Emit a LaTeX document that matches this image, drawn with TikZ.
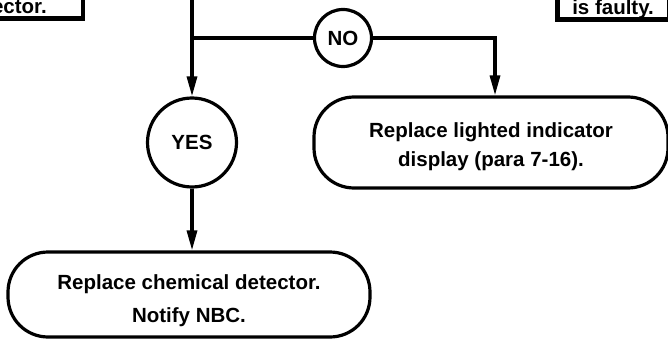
\documentclass[tikz,border=0pt]{standalone}
\usepackage{fontspec}
\setmainfont{Liberation Sans}
\usetikzlibrary{arrows.meta}
\tikzset{
  action/.style={rectangle, rounded corners=40pt, draw=black, line width=3.2pt, align=center, inner sep=0pt},
  answer/.style={circle, draw=black, line width=3.2pt, inner sep=0pt},
  note/.style={rectangle, draw=black, line width=4.5pt, text depth=0pt, text height=60pt},
  line/.style={line width=3.2pt},
  arrow/.style={line, -{Triangle[length=20pt, width=10pt]}}
}

\begin{document}
\begin{tikzpicture}[
    x=1pt, y=-1pt,
    every node/.style={font=\fontsize{20.5}{30}\selectfont\bfseries}
]
    \useasboundingbox (0,0) rectangle (668,339);
    \clip (0,0) rectangle (668,339);

    \node (prev) [note, anchor=south east, inner xsep=36pt, inner ysep=5.5pt] at (85,21) {ector.};
    \node (fault) [note, anchor=south west, inner xsep=15pt, inner ysep=5pt] at (555,22) {is faulty.};
    \coordinate (entry) at (192,-10);
    \coordinate (split) at (192,38);
    \node (no) [answer, minimum size=57pt] at (343,38) {NO};
    \node (yes) [answer, minimum size=89pt] at (192,142.5) {YES};
    \node (lighted) [action, minimum width=354pt, minimum height=91pt, font=\fontsize{20.5}{29}\selectfont\bfseries] at (491,142.5)
        {\rule{0pt}{23pt}Replace lighted indicator\\ display (para 7-16).};
    \node (chem) [action, minimum width=362pt, minimum height=85pt, font=\fontsize{20.5}{33}\selectfont\bfseries] at (189,294.5)
        {\rule{0pt}{27pt}Replace chemical detector.\\ Notify NBC.};

    \draw [arrow] (entry) -- (yes);
    \draw [line] (split) -- (no);
    \draw [arrow] (no) -| ([xshift=4pt]lighted.north);
    \draw [arrow] (yes) -- (chem.north -| yes);
\end{tikzpicture}
\end{document}
